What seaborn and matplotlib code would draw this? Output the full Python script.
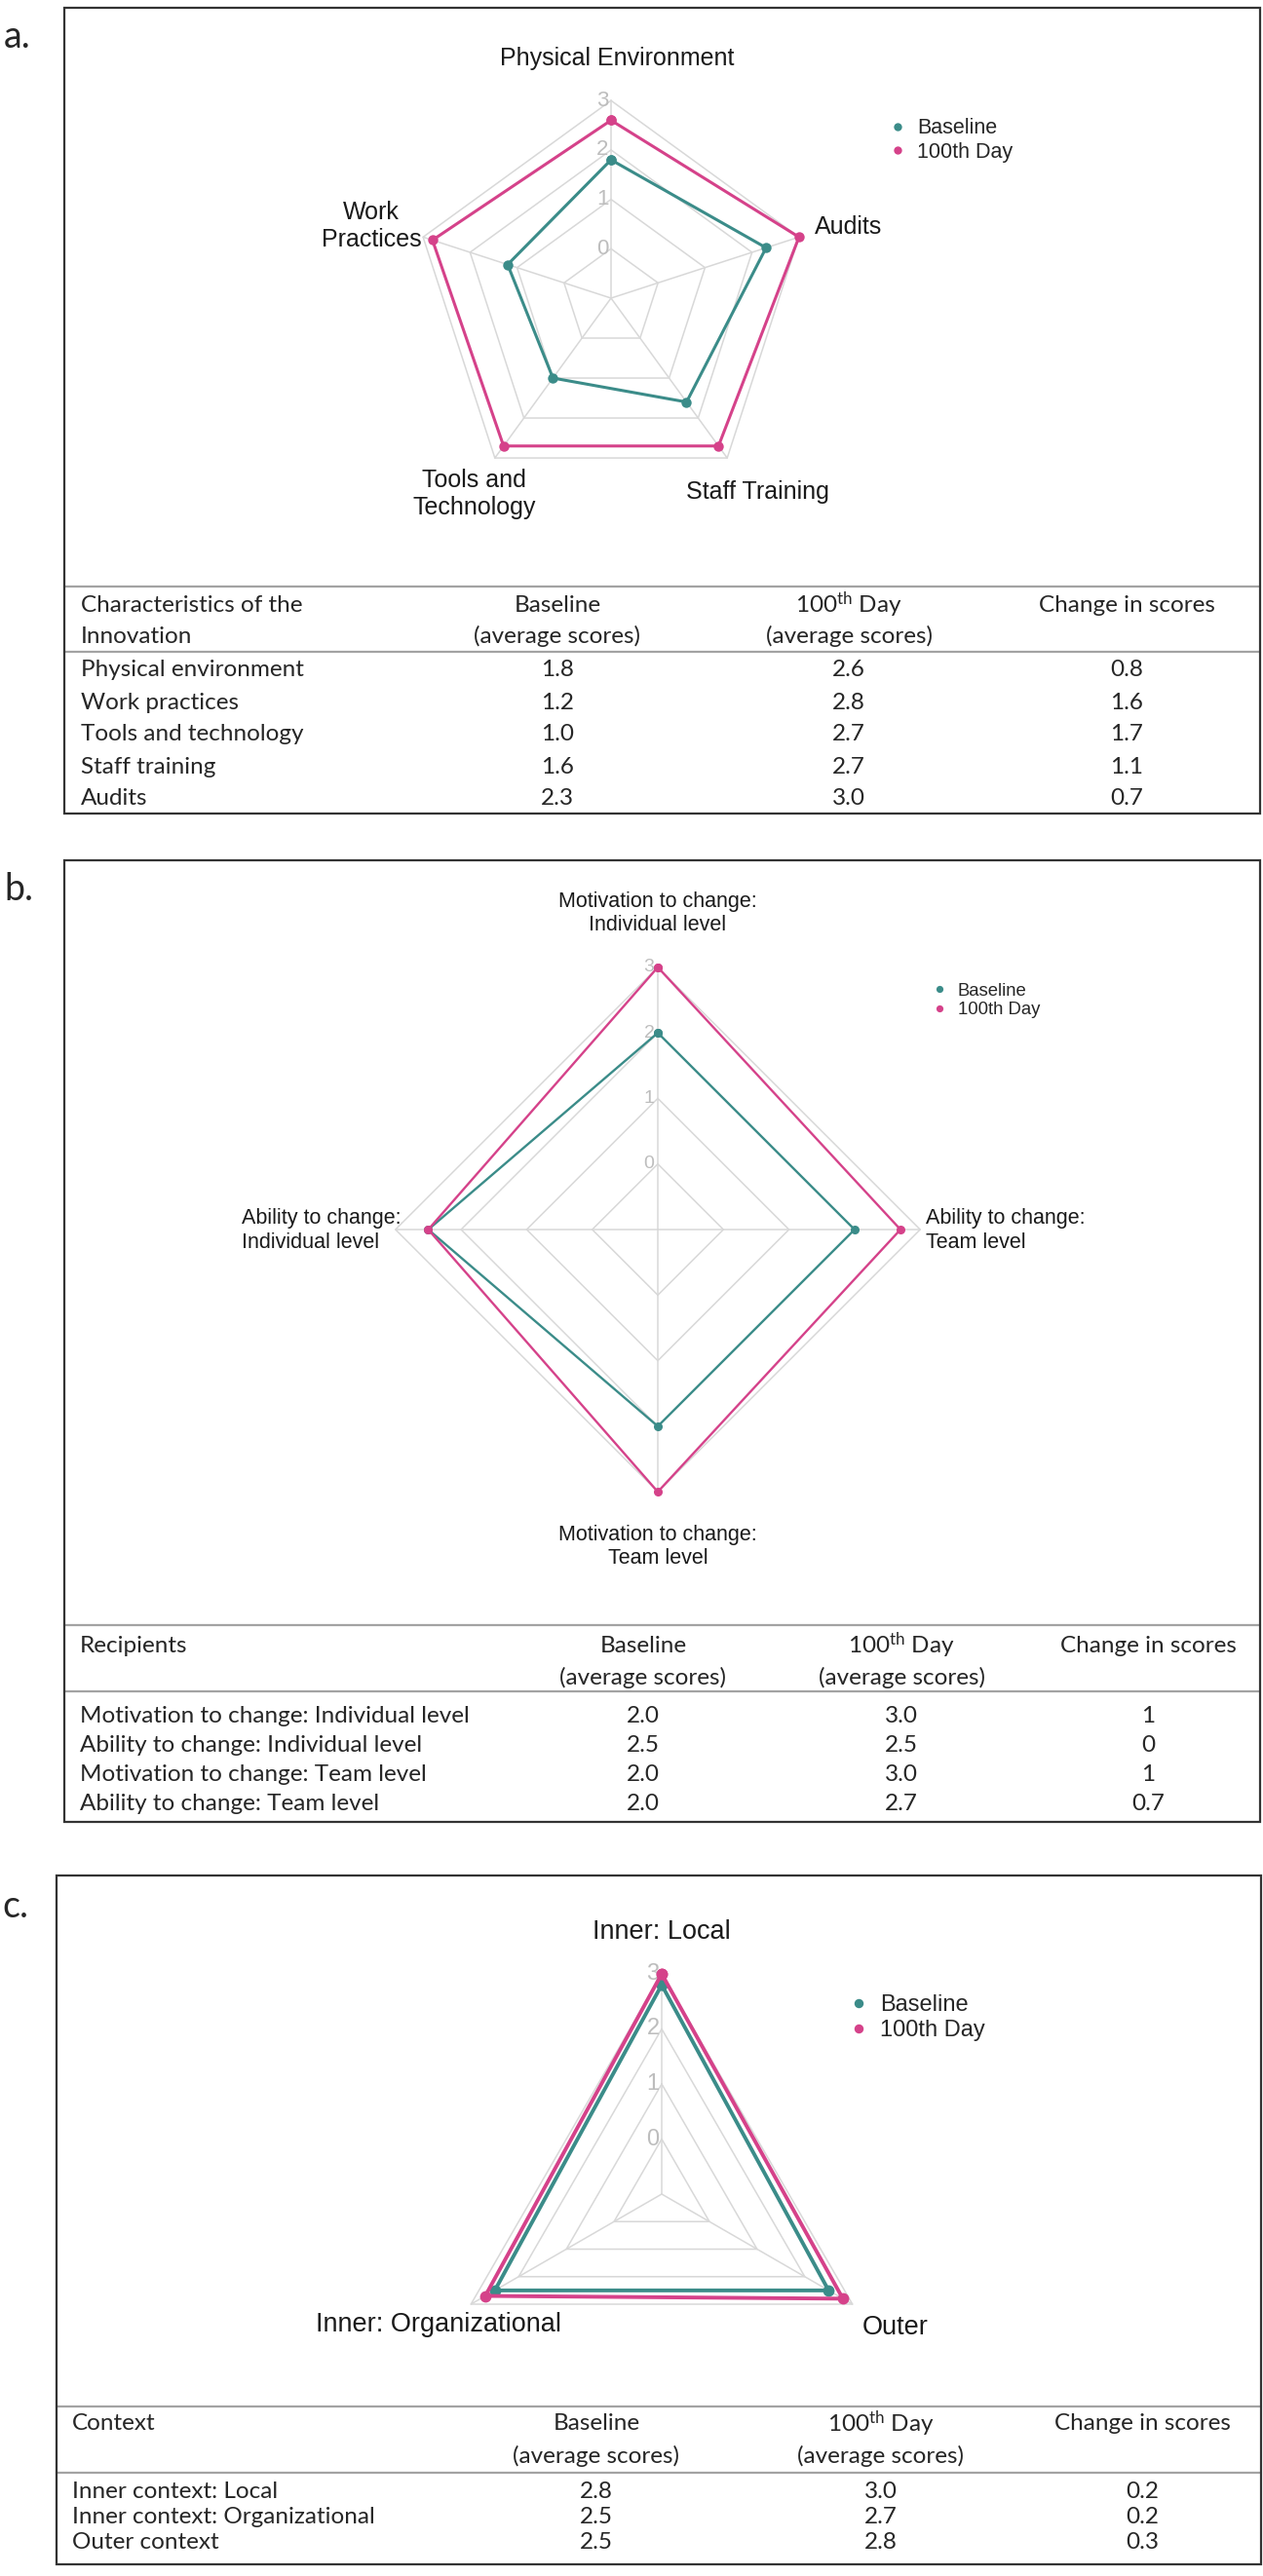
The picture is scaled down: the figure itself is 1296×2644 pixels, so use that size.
import numpy as np
import pandas as pd
import matplotlib
matplotlib.use("Agg")
import matplotlib.pyplot as plt
from matplotlib.lines import Line2D
from matplotlib.patches import Rectangle
import seaborn as sns

sns.set_theme(style="white")
plt.rcParams["font.family"] = ["Liberation Sans", "DejaVu Sans"]
plt.rcParams["mathtext.fontset"] = "custom"
plt.rcParams["mathtext.rm"] = "Lato"
plt.rcParams["mathtext.it"] = "Lato:italic"
plt.rcParams["mathtext.bf"] = "Lato:bold"

W, H, DPI = 1296, 2644, 100

# ---- data ----
series_names = ["Baseline", "100th Day"]
ticks = [0, 1, 2, 3]

# a. characteristics of the innovation
a_rows = ["Physical environment", "Work practices", "Tools and technology", "Staff training", "Audits"]
a_base = [1.8, 1.2, 1.0, 1.6, 2.3]
a_day100 = [2.6, 2.8, 2.7, 2.7, 3.0]
a_change = ["0.8", "1.6", "1.7", "1.1", "0.7"]
a_radar_labels = ["Physical Environment", "Audits", "Staff Training", "Tools and\nTechnology", "Work\nPractices"]
a_radar_order = [0, 4, 3, 2, 1]

# b. recipients
b_rows = ["Motivation to change: Individual level", "Ability to change: Individual level",
          "Motivation to change: Team level", "Ability to change: Team level"]
b_base = [2.0, 2.5, 2.0, 2.0]
b_day100 = [3.0, 2.5, 3.0, 2.7]
b_change = ["1", "0", "1", "0.7"]
b_radar_labels = ["Motivation to change:\nIndividual level", "Ability to change:\nTeam level",
                  "Motivation to change:\nTeam level", "Ability to change:\nIndividual level"]
b_radar_order = [0, 3, 2, 1]

# c. context
c_rows = ["Inner context: Local", "Inner context: Organizational", "Outer context"]
c_base = [2.8, 2.5, 2.5]
c_day100 = [3.0, 2.7, 2.8]
c_change = ["0.2", "0.2", "0.3"]
c_radar_labels = ["Inner: Local", "Outer", "Inner: Organizational"]
c_radar_order = [0, 2, 1]

col_headers = [["Baseline", "(average scores)"], ["100$^{\\mathrm{th}}$ Day", "(average scores)"], ["Change in scores"]]

TEAL = "#3b8c89"
PINK = "#d5428a"
GRID = "#d8d8d8"
TICK = "#bdbdbd"
TABLE_FONT = ["Lato", "DejaVu Sans"]

fig = plt.figure(figsize=(W / DPI, H / DPI), dpi=DPI)
page = fig.add_axes([0, 0, 1, 1])
page.set_xlim(0, W)
page.set_ylim(H, 0)
page.axis("off")


def radar(cx, cy, unit, labels, base, day, order, offsets, fs_lab, fs_tick, fs_leg,
          leg_xy, lw, ms, leg_pad):
    R = 4 * unit
    ax = fig.add_axes([(cx - R) / W, 1 - (cy + R) / H, 2 * R / W, 2 * R / H], projection="polar")
    ax.set_facecolor("none")
    ax.set_theta_zero_location("N")
    ax.set_theta_direction(-1)
    n = len(labels)
    theta = np.linspace(0, 2 * np.pi, n, endpoint=False)
    th = np.append(theta, theta[0])
    # polygon grid + spokes
    for v in ticks:
        ax.plot(th, [v] * (n + 1), color=GRID, lw=1.1, zorder=1)
    for t in theta:
        ax.plot([t, t], [-1, 3], color=GRID, lw=1.1, zorder=1)
    for v in ticks:
        ax.annotate(str(v), xy=(0, v), xytext=(-9, 0), textcoords="offset pixels",
                    ha="center", va="center", color=TICK, fontsize=fs_tick, zorder=2)
    b = [base[i] for i in order]
    d = [day[i] for i in order]
    df = pd.DataFrame({
        "theta": np.concatenate([th, th]),
        "score": b + [b[0]] + d + [d[0]],
        "series": [series_names[0]] * (n + 1) + [series_names[1]] * (n + 1),
    })
    sns.lineplot(data=df, x="theta", y="score", hue="series", palette=[TEAL, PINK],
                 sort=False, estimator=None, marker="o", markersize=ms, markeredgewidth=0,
                 linewidth=lw, legend=False, ax=ax, zorder=3)
    for ln in ax.lines:
        ln.set_clip_on(False)
    ax.set_ylim(-1, 3)
    ax.set_xticks([])
    ax.set_yticks([])
    ax.set_xlabel("")
    ax.set_ylabel("")
    ax.grid(False)
    ax.spines["polar"].set_visible(False)
    for t, lab, (dx, dy, ha, ma) in zip(theta, labels, offsets):
        ax.annotate(lab, xy=(t, 3), xytext=(dx, dy), textcoords="offset pixels",
                    ha=ha, va="center", multialignment=ma, fontsize=fs_lab,
                    color="#1a1a1a", annotation_clip=False)
    handles = [Line2D([], [], ls="none", marker="o", color=c, markersize=ms * 0.8, markeredgewidth=0)
               for c in [TEAL, PINK]]
    ax.legend(handles, series_names, loc="center left",
              bbox_to_anchor=(leg_xy[0] / W, 1 - leg_xy[1] / H), bbox_transform=fig.transFigure,
              frameon=False, fontsize=fs_leg, handlelength=0.8, handletextpad=leg_pad,
              labelspacing=0.15, borderpad=0, borderaxespad=0)
    return ax


def panel(letter, box, label_xy, table_y, rows, base, day, change, first_header,
          head_y, row_y, left_x, col_x):
    x0, y0, x1, y1 = box
    page.add_patch(Rectangle((x0, y0), x1 - x0, y1 - y0, fill=False, ec="#333333", lw=1.6, zorder=5))
    page.text(label_xy[0], label_xy[1], letter, fontsize=27, family=TABLE_FONT, ha="left", va="center")
    page.plot([x0, x1], [table_y[0], table_y[0]], color="#a3a3a3", lw=1.6)
    page.plot([x0, x1], [table_y[1], table_y[1]], color="#a3a3a3", lw=1.6)
    for i, line in enumerate(first_header):
        page.text(left_x, head_y[i], line, fontsize=17.5, family=TABLE_FONT, ha="left", va="center")
    for cx, lines in zip(col_x, col_headers):
        for i, line in enumerate(lines):
            page.text(cx, head_y[i], line, fontsize=17.5, family=TABLE_FONT, ha="center", va="center")
    for y, name, bv, dv, ch in zip(row_y, rows, base, day, change):
        page.text(left_x, y, name, fontsize=17.5, family=TABLE_FONT, ha="left", va="center")
        page.text(col_x[0], y, f"{bv:.1f}", fontsize=17.5, family=TABLE_FONT, ha="center", va="center")
        page.text(col_x[1], y, f"{dv:.1f}", fontsize=17.5, family=TABLE_FONT, ha="center", va="center")
        page.text(col_x[2], y, ch, fontsize=17.5, family=TABLE_FONT, ha="center", va="center")


# ---- panel a ----
panel("a.", (66, 8, 1293, 835), (4, 38), (602, 669), a_rows, a_base, a_day100, a_change,
      ["Characteristics of the", "Innovation"], (621, 653), [688, 721, 754, 787, 820],
      83, [572, 871, 1156])
radar(627, 306, 50.7, a_radar_labels, a_base, a_day100, a_radar_order,
      [(6, 43, "center", "center"), (16, 10, "left", "left"), (31, -35, "center", "center"),
       (-21, -37, "center", "center"), (-2, 11, "right", "center")],
      fs_lab=18, fs_tick=16, fs_leg=15.5, leg_xy=(912, 144), lw=2.2, ms=7.5, leg_pad=0.55)

# ---- panel b ----
panel("b.", (66, 883, 1293, 1870), (4, 913), (1668, 1736), b_rows, b_base, b_day100, b_change,
      ["Recipients"], (1689, 1722), [1762, 1792, 1822, 1852], 82, [660, 925, 1178])
radar(675, 1262, 67.3, b_radar_labels, b_base, b_day100, b_radar_order,
      [(0, 55, "center", "center"), (6, -1, "left", "left"), (0, -56, "center", "center"),
       (6, -1, "right", "left")],
      fs_lab=15.5, fs_tick=14, fs_leg=13.3, leg_xy=(957, 1027), lw=1.7, ms=6.5, leg_pad=0.6)

# ---- panel c ----
panel("c.", (58, 1925, 1294, 2632), (2, 1957), (2470, 2538), c_rows, c_base, c_day100, c_change,
      ["Context"], (2488, 2521), [2558, 2584, 2610], 74, [612, 904, 1172])
radar(679, 2252, 56.5, c_radar_labels, c_base, c_day100, c_radar_order,
      [(0, 43, "center", "center"), (10, -24, "left", "left"), (-33, -21, "center", "center")],
      fs_lab=19.5, fs_tick=17, fs_leg=17, leg_xy=(872, 2071), lw=2.8, ms=8.5, leg_pad=0.5)

fig.savefig("out.png", dpi=DPI, facecolor="white")
